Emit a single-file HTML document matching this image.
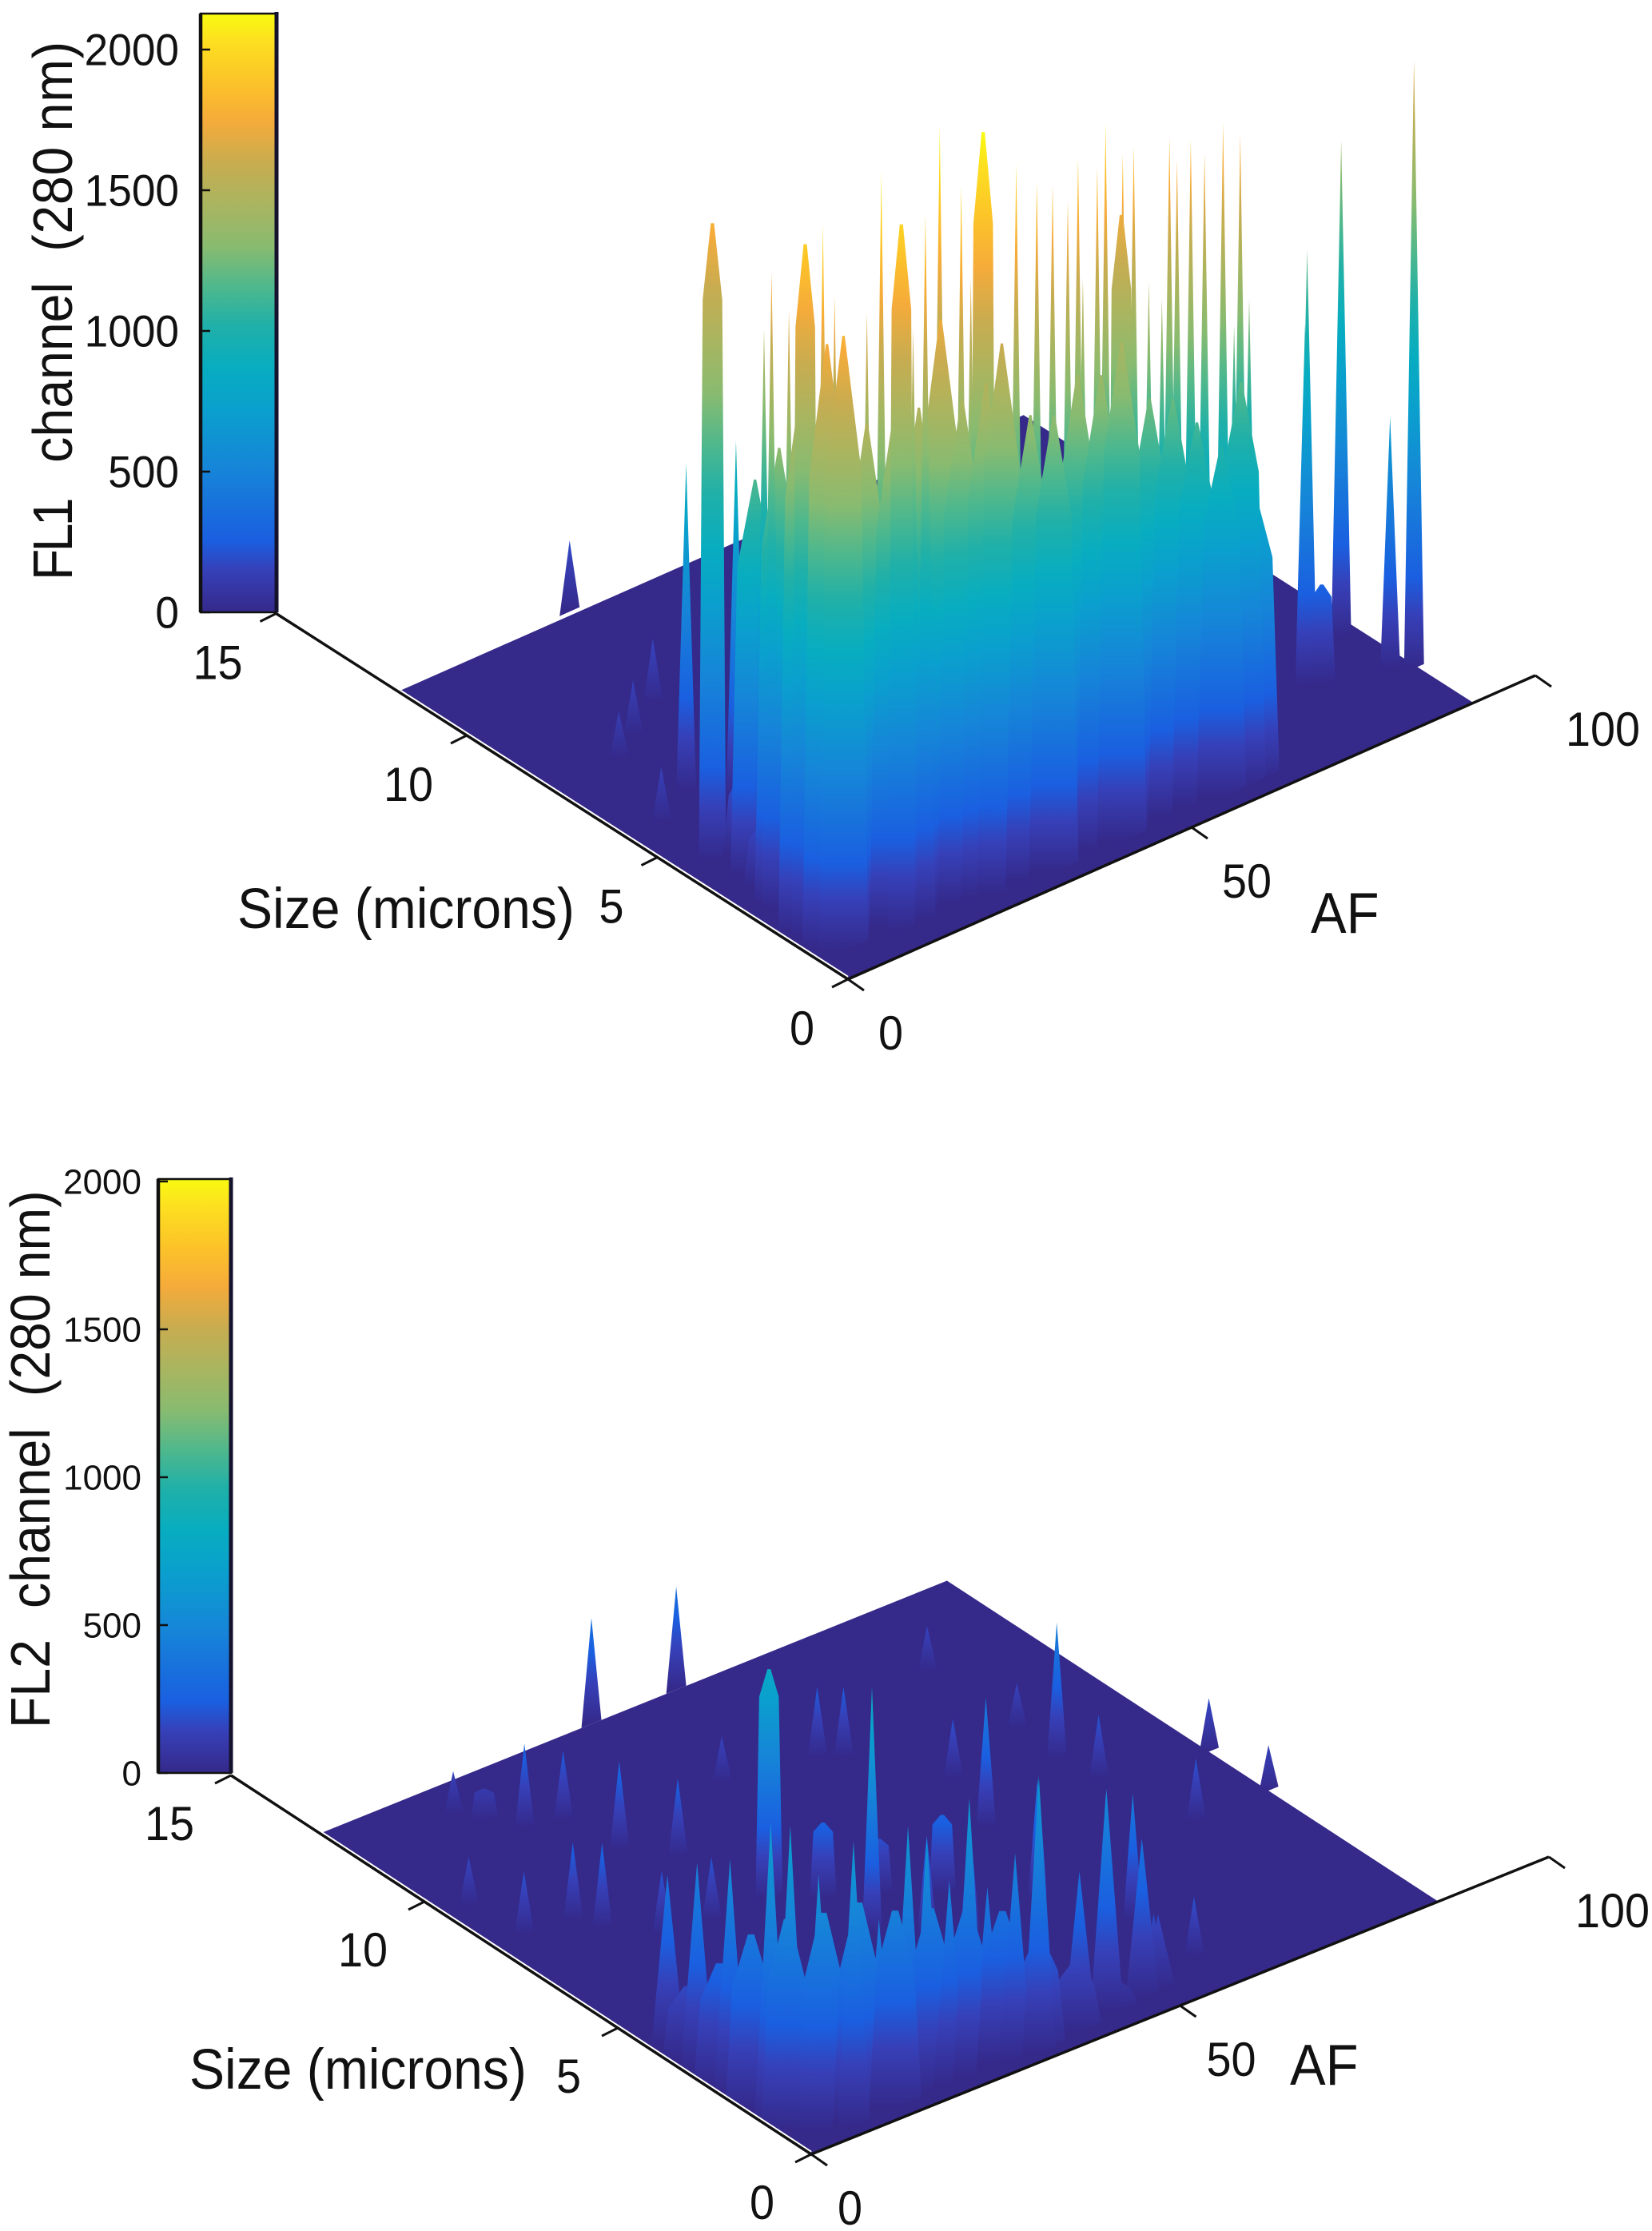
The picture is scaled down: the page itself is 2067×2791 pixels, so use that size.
<!DOCTYPE html>
<html lang="en">
<head>
<meta charset="utf-8">
<title>FL1 and FL2 channel surfaces</title>
<style>
html,body{margin:0;padding:0;background:#fff}
svg{display:block}
text{font-family:"Liberation Sans",sans-serif;fill:#111}
</style>
</head>
<body>
<svg id="figure" xmlns="http://www.w3.org/2000/svg" width="2067" height="2791" viewBox="0 0 2067 2791">
<defs>
<linearGradient id="parula" x1="0" y1="1" x2="0" y2="0">
<stop offset="0" stop-color="#35298a"/>
<stop offset="0.07" stop-color="#3640b8"/>
<stop offset="0.12" stop-color="#1a5fe0"/>
<stop offset="0.24" stop-color="#1685d8"/>
<stop offset="0.34" stop-color="#0aa0cd"/>
<stop offset="0.41" stop-color="#08adc0"/>
<stop offset="0.48" stop-color="#20b0a8"/>
<stop offset="0.545" stop-color="#50b88c"/>
<stop offset="0.61" stop-color="#88bb70"/>
<stop offset="0.68" stop-color="#a9b560"/>
<stop offset="0.75" stop-color="#c8ac50"/>
<stop offset="0.82" stop-color="#f5ab3a"/>
<stop offset="0.885" stop-color="#fcc329"/>
<stop offset="0.955" stop-color="#fde020"/>
<stop offset="1" stop-color="#f8fb10"/>
</linearGradient>
</defs>
<g id="chart1"></g>
<g id="chart2"></g>
<text transform="translate(90,726) rotate(-90) scale(.92,1)" font-size="70"><tspan x="0" letter-spacing="-4">FL1 </tspan><tspan x="160">channel </tspan><tspan x="447" letter-spacing="0.8">(280 nm)</tspan></text>
<text transform="translate(62,2162) rotate(-90) scale(.92,1)" font-size="70"><tspan x="0">FL2 </tspan><tspan x="163">channel </tspan><tspan x="451">(280 nm)</tspan></text>
<text transform="translate(297,1161) scale(.93,1)" font-size="71">Size (microns)</text>
<text transform="translate(237,2613) scale(.93,1)" font-size="71">Size (microns)</text>
<text transform="translate(1640,1167) scale(.93,1)" font-size="72">AF</text>
<text transform="translate(1614,2608) scale(.93,1)" font-size="72">AF</text>
</svg>
<script>
const zTickValues = [0, 500, 1000, 1500, 2000];
const sizeTickValues = [0, 5, 10, 15];
const afTickValues = [0, 50, 100];

/* FL1 channel: narrow peaks */
const fl1NeedleAf = [25.5,20.4,14.2,9.9,5,11.4,14.6,21.9,7.2,2.75,2.5,1.9,3.6,8.3,10.4,12.8,14.6,20,19.8,21.2,27.8,30.8,33.1,35.3,36.8,37.5,39.6,40.8,43.3,44.9,47.1,49,50.1,51.2,53.2,55.2,57.9,59.5,60.4,61.7,79,78.7,88.4,88.3,90.5,73.4];
const fl1NeedleSize = [11.9,8.8,8.2,7.8,5.8,6.3,5.57,6.3,3.5,2.5,2,1,1,1,1,0.6,0.6,1.2,0.6,0.6,0.6,0.6,0.6,0.6,0.6,0.6,0.6,0.6,0.6,0.6,0.6,0.6,0.6,0.6,0.6,0.6,0.6,0.6,0.6,0.6,2.2,2.2,3,1.7,1.47,2.24];
const fl1NeedleValues = [198,178,156,133,156,911,996,720,1510,1773,1705,2017,1801,1715,2089,1660,1964,2120,1998,1726,1993,1918,1888,1825,1932,1590,1885,1994,1889,1897,1500,1438,1877,1806,1844,1789,1851,1275,1797,1330,1211,1007,1382,703,1693,329];
/* FL1 channel: broad flat-topped peaks */
const fl1BroadAf = [4.3,2.1,11.1,23,43.1,80.3];
const fl1BroadSize = [4.33,1.5,0.6,0.6,0.6,2.05];
const fl1BroadValues = [1772,1924,1964,2120,1720,280];
/* FL1 channel: central mound */
const fl1MoundAf = [6,4.3,2.6,2.5,3.4,7,11,14.2,17.2,19.9,22.7,24.6,28.7,32.1,35.7,39.1,42.1,46.2,49.6,53.1,56.6,59.5,61.6];
const fl1MoundSize = [3.52,2.58,1.65,1,0.73,0.77,0.77,0.7,0.67,0.59,0.47,0.4,0.39,0.39,0.41,0.41,0.41,0.42,0.42,0.42,0.41,0.42,0.44];
const fl1MoundValues = [1151,1325,1616,1755,1790,1500,1488,1488,1720,1469,1500,1604,1360,1330,1414,1383,1451,1251,1220,1121,1021,1181,837];
/* FL1 channel: low left slope */
const fl1FootAf = [8,5.4];
const fl1FootSize = [4.1,3.1];
const fl1FootValues = [250,200];

/* FL2 channel: narrow peaks */
const fl2NeedleAf = [36.8,48.3,85,85,33.3,71.4,71.6,51.4,53.6,71.8,60.1,56.5,72.3,51.7,52.9,41.5,37.9,56.9,75,57.5,52.3,17.8,22,23,27,13.6,40.2,4.1,3.1,10,11.5,15.7,21.6];
const fl2NeedleSize = [12.7,12.7,5.93,4.39,4.78,7.27,10.66,9.65,9.39,8.38,7.8,6.26,6.36,4.01,2.47,3.82,4.24,2.54,4.36,1.07,1.12,10.81,10.61,9.35,8.6,11.85,9.98,8.21,9.45,8.07,7.6,6.86,6.7];
const fl2NeedleValues = [359,349,181,154,838,459,157,240,240,157,203,443,216,408,478,384,335,432,213,203,192,286,238,300,265,146,157,214,168,265,289,214,216];
/* FL2 channel: broad flat-topped peaks */
const fl2BroadAf = [29.2,15.4,33.7,39,44.3];
const fl2BroadSize = [6.66,11.39,6.12,5.69,5.06];
const fl2BroadValues = [778,108,260,189,270];
/* FL2 channel: central spiky mound */
const fl2MoundAf = [1.8,1.2,0.9,0.7,1.3,3.2,7.1,10.8,14.8,17.4,20.3,23,25.5,28.9,31.9,38.4,42.7,47.7,50.1];
const fl2MoundSize = [4.06,3.18,2.27,1.18,0.79,0.42,0.26,0.31,0.32,0.33,0.3,0.3,0.31,0.24,0.2,0.39,0.51,0.55,0.59];
const fl2MoundValues = [391,473,535,682,693,591,649,445,629,584,469,638,418,476,633,362,513,365,173];
/* FL2 channel: low front slope */
const fl2FootAf = [1.6,1,0.6,1.07,3.8,8.1,12.9,17.9,22.8,27.5,32.4,37.7,43.3];
const fl2FootSize = [3.51,2.57,1.67,0.83,0.41,0.31,0.29,0.32,0.32,0.3,0.29,0.37,0.5];
const fl2FootValues = [170,280,400,480,500,500,450,420,390,350,260,160,80];

const SVGNS = 'http://www.w3.org/2000/svg';

function make(tag, attrs, parent) {
  const el = document.createElementNS(SVGNS, tag);
  for (const k in attrs) el.setAttribute(k, attrs[k]);
  parent.appendChild(el);
  return el;
}

function project(c, af, size) {
  return [c.ox + af * c.afx + size * c.sx, c.oy + af * c.afy + size * c.sy];
}

function zY(c, value) {
  return c.zBase - value * c.zs;
}

function label(parent, text, x, y, fs, sx, anchor, name) {
  const t = make('text', {transform: 'translate(' + x + ',' + y + ') scale(' + sx + ',1)', 'font-size': fs, 'text-anchor': anchor}, parent);
  t.textContent = text;
  
  
  return t;
}

let gradientCount = 0;

function drawMark(c, parent, defs, mark, name) {
  const st = c.styles[mark.group];
  const hw = st[0], tip = st[1], shoulder = st[2];
  const scale = c.groupZs[mark.group];
  const b = project(c, mark.af, mark.size);
  const h = mark.value * scale;
  const top = b[1] - h;
  const slope = c.afy / c.afx;
  gradientCount += 1;
  const gid = 'sg' + gradientCount;
  make('linearGradient', {id: gid, href: '#parula', gradientUnits: 'userSpaceOnUse', x1: 0, x2: 0, y1: b[1].toFixed(1), y2: (b[1] - c.zMax * scale).toFixed(1)}, defs);
  const pts = [];
  pts.push([b[0] - hw, b[1] - hw * slope]);
  if (shoulder > 0) pts.push([b[0] - hw * 0.72, top + h * shoulder]);
  pts.push([b[0] - tip, top]);
  if (tip > 0) pts.push([b[0] + tip, top]);
  if (shoulder > 0) pts.push([b[0] + hw * 0.72, top + h * shoulder]);
  pts.push([b[0] + hw, b[1] + hw * slope]);
  const el = make('polygon', {points: pts.map(p => p[0].toFixed(1) + ',' + p[1].toFixed(1)).join(' '), fill: 'url(#' + gid + ')'}, parent);
  
  
}

function collect(group, afs, sizes, values) {
  return afs.map((af, i) => ({group: group, af: af, size: sizes[i], value: values[i]}));
}

function drawChart(c, parent, marks) {
  const defs = make('defs', {}, parent);

  const clipId = parent.id + '-front-clip';
  const clip = make('clipPath', {id: clipId}, defs);
  const farLeft = project(c, 0, c.sizeMax);
  const corner = project(c, 0, 0);
  const farRight = project(c, c.afMax, 0);
  make('polygon', {points: [
    [farLeft[0], c.barTop - 80], farLeft, corner, farRight, [farRight[0], c.barTop - 80]
  ].map(p => p[0].toFixed(1) + ',' + p[1].toFixed(1)).join(' ')}, clip);

  const plane = make('polygon', {fill: '#35298a', points: [
    project(c, 0, 0), project(c, c.afMax, 0), project(c, c.afMax, c.sizeMax), project(c, 0, c.sizeMax)
  ].map(p => p[0].toFixed(1) + ',' + p[1].toFixed(1)).join(' ')}, parent);
  
  

  const peaks = make('g', {'clip-path': 'url(#' + clipId + ')'}, parent);
  
  
  const ordered = marks.slice().sort((a, b) => b.size - a.size);
  ordered.forEach(m => {
    drawMark(c, peaks, defs, m, 'surface-peak');
  });

  const bar = make('rect', {x: c.barX, y: c.barTop, width: c.barW, height: c.zBase - c.barTop, fill: 'url(#parula)', stroke: '#111', 'stroke-width': 2.5}, parent);
  
  
  const leftLine = make('line', {x1: c.barX, x2: c.barX, y1: c.barTop, y2: c.zBase, stroke: '#111', 'stroke-width': 4.5}, parent);
  
  
  const rightLine = make('line', {x1: c.barX + c.barW, x2: c.barX + c.barW, y1: c.barTop - 2, y2: c.zBase, stroke: '#15122e', 'stroke-width': 5}, parent);
  
  

  zTickValues.forEach(v => {
    const y = zY(c, v);
    const tk = make('line', {x1: c.barX, x2: c.barX + 12, y1: y, y2: y, stroke: '#111', 'stroke-width': 2.5}, parent);
    
    
    label(parent, String(v), c.zLabelX, (y + c.zFont * 0.35).toFixed(1), c.zFont, c.zScale, 'end', 'z-axis-tick-label');
  });

  const o = project(c, 0, 0);
  const s15 = project(c, 0, 15);
  const a100 = project(c, 100, 0);
  const edge = project(c, 0, c.sizeMax);

  const white = make('line', {x1: edge[0], y1: edge[1] - 3, x2: o[0], y2: o[1] - 3, stroke: '#fff', 'stroke-width': 2.5}, parent);
  
  

  const sizeAxis = make('line', {x1: o[0], y1: o[1], x2: s15[0], y2: s15[1], stroke: '#111', 'stroke-width': 3.5}, parent);
  
  
  const afAxis = make('line', {x1: o[0], y1: o[1], x2: a100[0], y2: a100[1], stroke: '#111', 'stroke-width': 3.5}, parent);
  
  

  sizeTickValues.forEach(v => {
    const p = project(c, 0, v);
    const tk = make('line', {x1: p[0], y1: p[1], x2: p[0] - 20, y2: p[1] + 10, stroke: '#111', 'stroke-width': 3}, parent);
    
    
    label(parent, String(v), (p[0] + c.sizeLabelDx).toFixed(1), (p[1] + c.sizeLabelDy + 21).toFixed(1), 60, 0.93, 'end', 'size-axis-tick-label');
  });

  afTickValues.forEach(v => {
    const p = project(c, v, 0);
    const tk = make('line', {x1: p[0], y1: p[1], x2: p[0] + 20, y2: p[1] + 14, stroke: '#111', 'stroke-width': 3}, parent);
    
    
    label(parent, String(v), (p[0] + c.afLabelDx).toFixed(1), (p[1] + c.afLabelDy + 21).toFixed(1), 60, 0.93, 'start', 'af-axis-tick-label');
  });
}

const chart1Config = {ox: 1061, oy: 1225, afx: 8.6, afy: -3.8, sx: -47.7, sy: -30.5, zs: 0.352, zBase: 766, zMax: 2125, afMax: 91, sizeMax: 11.8, barX: 251, barW: 95, barTop: 17, zLabelX: 224, zFont: 56, zScale: 0.95, sizeLabelDx: -42, sizeLabelDy: 61, afLabelDx: 38, afLabelDy: 67,
  groupZs: {needle: 0.45, broad: 0.45, mound: 0.43, foot: 0.43},
  styles: {needle: [12.5, 0, 0], broad: [17, 2, 0.12], mound: [31, 1.5, 0.22], foot: [31, 4, 0.3]}};
const chart2Config = {ox: 1015, oy: 2695, afx: 9.23, afy: -3.72, sx: -48.4, sy: -31.6, zs: 0.37, zBase: 2218, zMax: 2008, afMax: 85, sizeMax: 12.7, barX: 198, barW: 91, barTop: 1475, zLabelX: 177, zFont: 44, zScale: 1, sizeLabelDx: -46, sizeLabelDy: 60, afLabelDx: 33, afLabelDy: 67,
  groupZs: {needle: 0.37, broad: 0.37, mound: 0.55, foot: 0.55},
  styles: {needle: [12.5, 0, 0], broad: [17, 2, 0.12], mound: [21, 0, 0], foot: [33, 4, 0.3]}};

const fl1Marks = [].concat(
  collect('needle', fl1NeedleAf, fl1NeedleSize, fl1NeedleValues),
  collect('broad', fl1BroadAf, fl1BroadSize, fl1BroadValues),
  collect('mound', fl1MoundAf, fl1MoundSize, fl1MoundValues),
  collect('foot', fl1FootAf, fl1FootSize, fl1FootValues)
);
const fl2Marks = [].concat(
  collect('needle', fl2NeedleAf, fl2NeedleSize, fl2NeedleValues),
  collect('broad', fl2BroadAf, fl2BroadSize, fl2BroadValues),
  collect('mound', fl2MoundAf, fl2MoundSize, fl2MoundValues),
  collect('foot', fl2FootAf, fl2FootSize, fl2FootValues)
);

drawChart(chart1Config, document.getElementById('chart1'), fl1Marks);
drawChart(chart2Config, document.getElementById('chart2'), fl2Marks);
</script>
</body>
</html>
